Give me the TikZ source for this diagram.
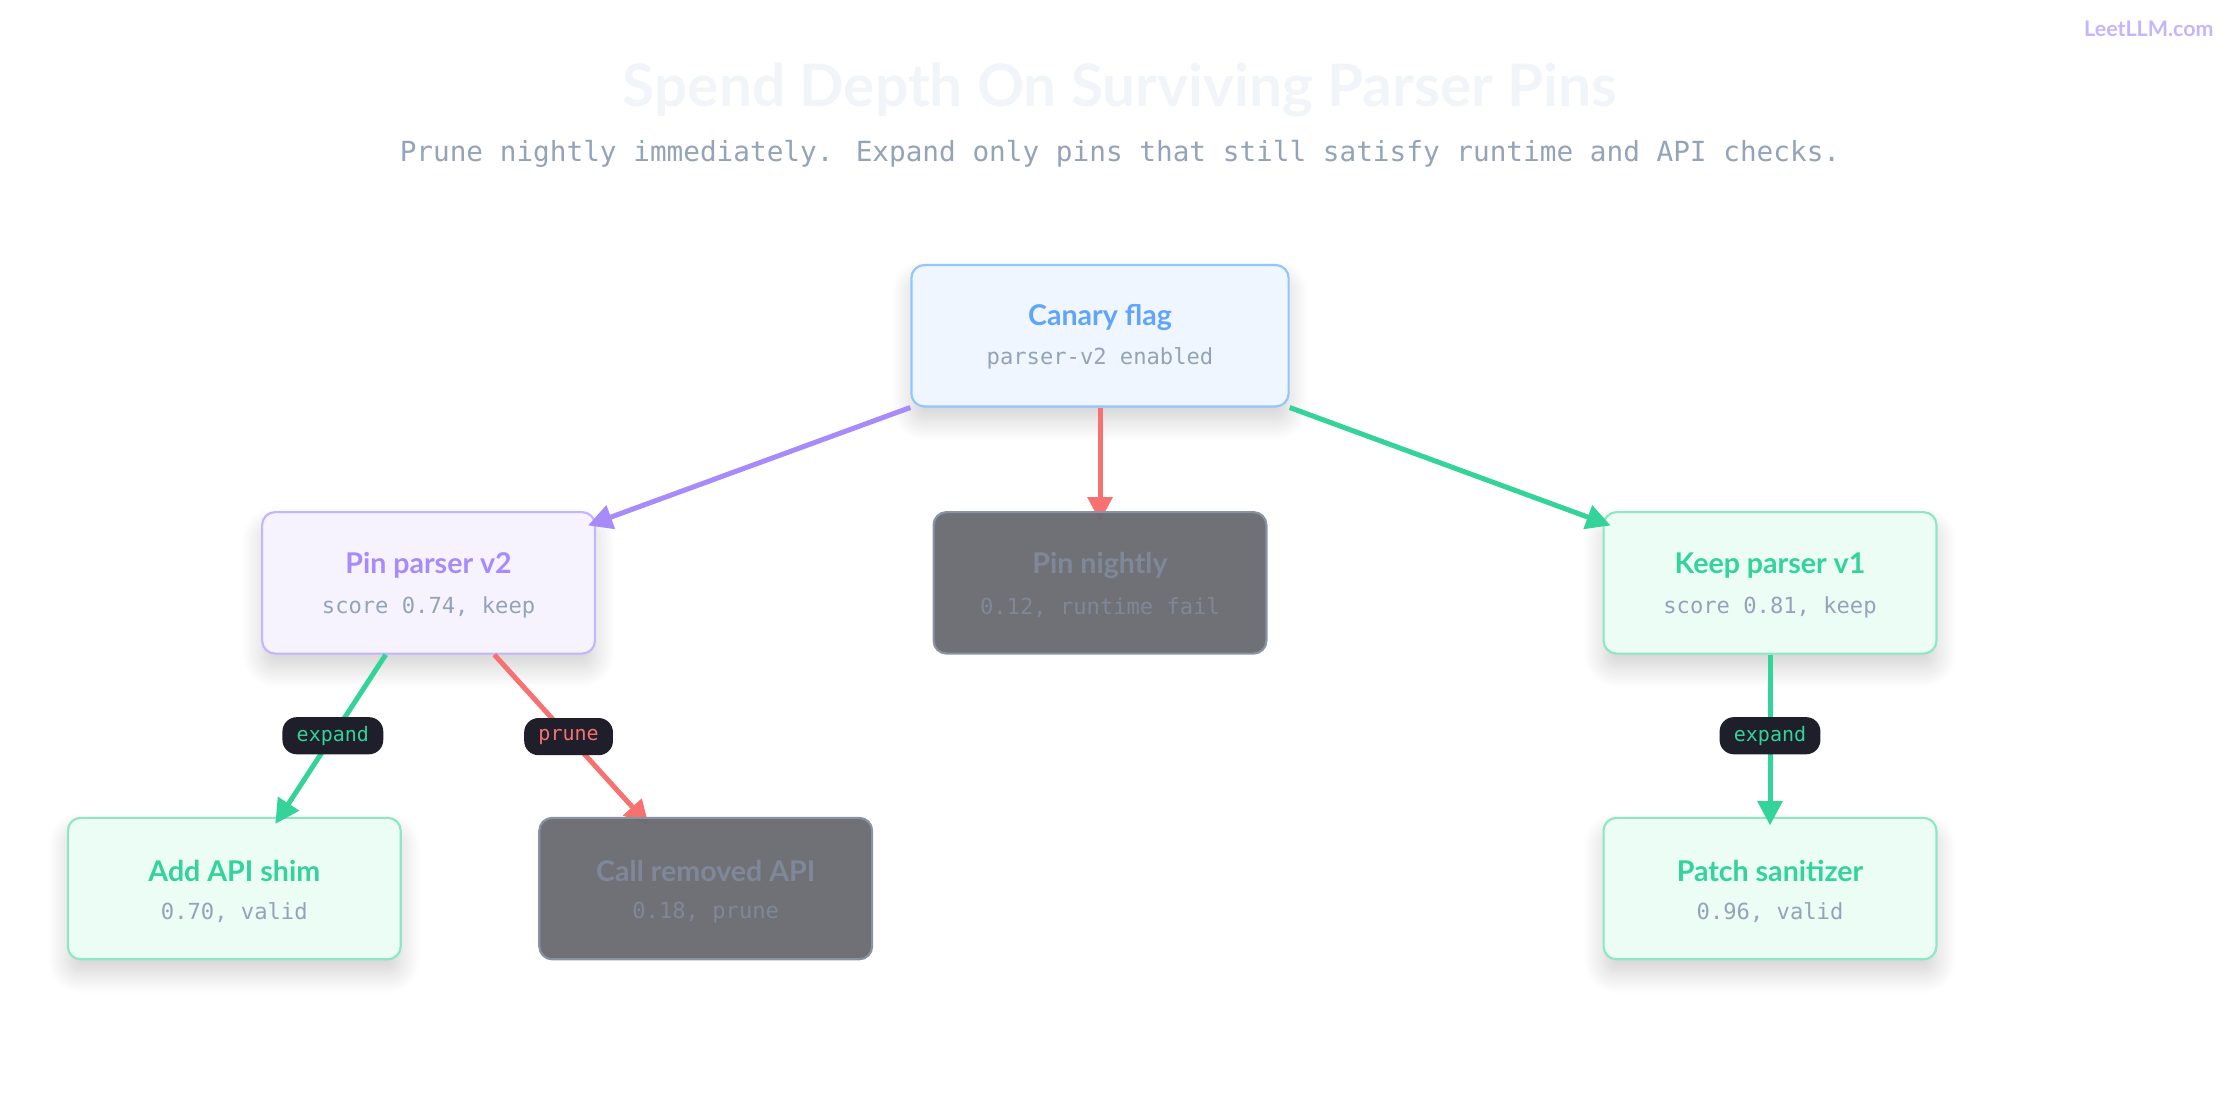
\documentclass[tikz,border=0pt]{standalone}
\usepackage{fontspec}
\setmainfont{Lato}
\newfontfamily\monof{DejaVu Sans Mono}
\usetikzlibrary{shadows.blur,arrows.meta}
\definecolor{purp}{HTML}{A78BFA}\definecolor{purpf}{HTML}{F6F3FF}\definecolor{purpb}{HTML}{C4B5FD}
\definecolor{blu}{HTML}{60A5FA}\definecolor{bluf}{HTML}{EFF6FF}\definecolor{blub}{HTML}{93C5FD}
\definecolor{grn}{HTML}{34D399}\definecolor{grnf}{HTML}{ECFDF5}\definecolor{grnb}{HTML}{8EE6C4}
\definecolor{redc}{HTML}{F87171}\definecolor{slate}{HTML}{94A3B8}\definecolor{ttl}{HTML}{F1F5F9}
\definecolor{gfill}{HTML}{6A6B71}\definecolor{gbord}{HTML}{8A93A3}\definecolor{gtext}{HTML}{7F8899}
\definecolor{badge}{HTML}{1E1F2A}\definecolor{logo}{HTML}{C4B5FD}
\tikzset{
 box/.style={rounded corners=9pt,line width=1.5pt,minimum width=233pt,minimum height=99pt,blur shadow={shadow blur steps=14,shadow blur radius=14pt,shadow xshift=0pt,shadow yshift=-10pt,shadow opacity=18}},
 gbox/.style={rounded corners=9pt,line width=1.5pt,minimum width=233pt,minimum height=99pt,draw=gbord,fill=gfill,fill opacity=0.96,text opacity=1},
 ttxt/.style={font=\bfseries\fontsize{20}{22}\selectfont},
 stxt/.style={font=\monof\fontsize{15.5}{18}\selectfont,text=slate},
 edge/.style={line width=3.5pt,-{Triangle[length=17pt,width=17pt]},shorten >=-6pt},
 bdg/.style={fill=badge,rounded corners=10pt,font=\monof\fontsize{14}{16}\selectfont,inner xsep=10pt,minimum height=26pt}
}
\begin{document}
\begin{tikzpicture}[x=1pt,y=-1pt]
\useasboundingbox (0,0) rectangle (1568,784);
\node[font=\bfseries\fontsize{41}{46}\selectfont,text=ttl] (title) at (784,63) {Spend Depth On Surviving Parser Pins};
\node[font=\monof\fontsize{19.4}{22}\selectfont,text=slate] (sub) at (784,108) {Prune nightly immediately. Expand only pins that still satisfy runtime and API checks.};
\node[font=\bfseries\fontsize{15}{18}\selectfont,text=logo,anchor=east] (logo) at (1553,20) {LeetLLM.com};
% nodes
\node[box,draw=blub,fill=bluf,minimum width=264pt] (canary) at (770,235) {};
\node[ttxt,text=blu] at (770,222) {Canary flag};
\node[stxt] at (770,251) {parser-v2 enabled};
\node[box,draw=purpb,fill=purpf] (pin2) at (300,408) {};
\node[ttxt,text=purp] at (300,396) {Pin parser v2};
\node[stxt] at (300,425) {score 0.74, keep};
\node[box,draw=grnb,fill=grnf] (keep1) at (1239,408) {};
\node[ttxt,text=grn] at (1239,396) {Keep parser v1};
\node[stxt] at (1239,425) {score 0.81, keep};
\node[box,draw=grnb,fill=grnf] (shim) at (164,622) {};
\node[ttxt,text=grn] at (164,610) {Add API shim};
\node[stxt] at (164,639) {0.70, valid};
\node[box,draw=grnb,fill=grnf] (patch) at (1239,622) {};
\node[ttxt,text=grn] at (1239,610) {Patch sanitizer};
\node[stxt] at (1239,639) {0.96, valid};
\coordinate (nightlytop) at (770,359);
\coordinate (removedtop) at (450,573);
% edges
\draw[edge,purp] (canary.south west) -- ([yshift=-8pt]pin2.north east);
\draw[edge,redc] (canary.south) -- (nightlytop);
\draw[edge,grn] (canary.south east) -- ([yshift=-8pt]keep1.north west);
\draw[edge,grn] ([xshift=-30pt]pin2.south) -- ([xshift=32pt]shim.north) node[bdg,text=grn,pos=0.5] (b1) {expand};
\draw[edge,redc] ([xshift=46pt]pin2.south) -- (removedtop) node[bdg,text=redc,pos=0.5] (b2) {prune};
\draw[edge,grn] (keep1.south) -- (patch.north) node[bdg,text=grn,pos=0.5] (b3) {expand};
% pruned nodes
\node[gbox] (nightly) at (770,408) {};
\node[ttxt,text=gtext] at (770,396) {Pin nightly};
\node[stxt,text=gtext] at (770,425) {0.12, runtime fail};
\node[gbox] (removed) at (494,622) {};
\node[ttxt,text=gtext] at (494,610) {Call removed API};
\node[stxt,text=gtext] at (494,639) {0.18, prune};
\end{tikzpicture}
\end{document}
